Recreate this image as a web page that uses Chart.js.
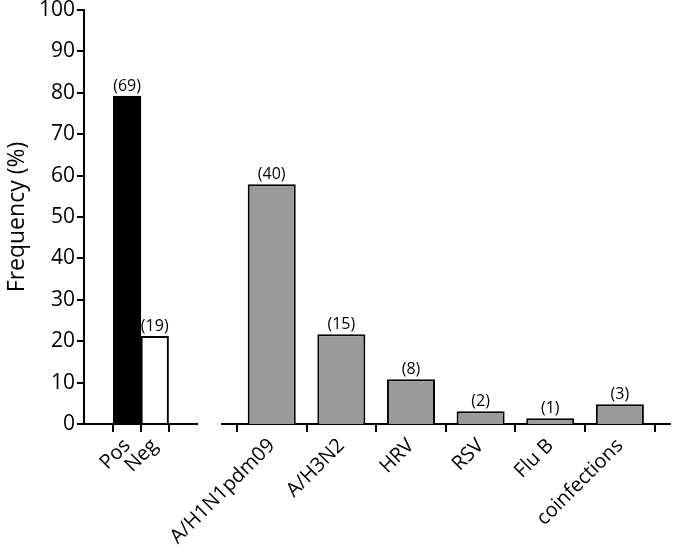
<!DOCTYPE html>
<html>
<head>
<meta charset="utf-8">
<script src="https://cdn.jsdelivr.net/npm/chart.js@4/dist/chart.umd.min.js"></script>
<style>
  html, body { margin: 0; padding: 0; background: #fff; }
  #wrap { position: relative; width: 673px; height: 554px; }
  canvas { position: absolute; top: 0; }
  #left { left: 0; }
  #right { left: 150px; }
</style>
</head>
<body>
<div id="wrap">
  <canvas id="left" width="210" height="554"></canvas>
  <canvas id="right" width="523" height="554"></canvas>
</div>
<script>
// overall result
const resultLabels = ['Pos', 'Neg'];
const resultFreq = [79.2, 21.2];
const resultCounts = [69, 19];
const resultColors = ['#000000', '#ffffff'];

// virus detected among positives
const virusLabels = ['A/H1N1pdm09', 'A/H3N2', 'HRV', 'RSV', 'Flu B', 'coinfections'];
const virusFreq = [57.9, 21.7, 10.8, 3.1, 1.4, 4.8];
const virusCounts = [40, 15, 8, 2, 1, 3];

const yTicks = [0, 10, 20, 30, 40, 50, 60, 70, 80, 90, 100];

Chart.defaults.font.family = '"Open Sans", sans-serif';
Chart.defaults.color = '#000';

// "(n)" above each bar
const countLabels = {
    id: 'countLabels',
    afterDatasetsDraw(chart, args, opts) {
        const ctx = chart.ctx;
        const meta = chart.getDatasetMeta(0);
        ctx.save();
        ctx.font = '16px "Open Sans", sans-serif';
        ctx.fillStyle = '#000';
        ctx.textAlign = 'center';
        ctx.textBaseline = 'bottom';
        meta.data.forEach((bar, i) => {
            ctx.fillText('(' + opts.counts[i] + ')', bar.x, bar.y - 2);
        });
        ctx.restore();
    }
};

function xScale(labels, min, max) {
    return {
        type: 'linear',
        min, max,
        offset: false,
        afterBuildTicks: s => { s.ticks = labels.map((l, i) => ({ value: i })); },
        afterFit: s => {
            s.height = 130;
            s.paddingLeft = 0;
            s.paddingRight = 0;
        },
        ticks: {
            autoSkip: false,
            minRotation: 45,
            maxRotation: 45,
            padding: 2,
            font: { size: 20 },
            callback: v => labels[v],
        },
        grid: { drawOnChartArea: false, tickLength: 8, color: '#000', lineWidth: 2 },
        border: { color: '#000', width: 2 },
    };
}

function yScale(visible) {
    return {
        min: 0,
        max: 100,
        afterBuildTicks: s => { s.ticks = yTicks.map(v => ({ value: v })); },
        afterFit: s => {
            s.width = visible ? 80 : 0;
            s.paddingTop = 0;
            s.paddingBottom = 0;
        },
        ticks: { font: { size: 21 }, padding: 2, color: visible ? '#000' : 'rgba(0,0,0,0)' },
        grid: { display: visible, drawOnChartArea: false, tickLength: 7, color: '#000', lineWidth: 2 },
        border: { display: visible, color: '#000', width: 2 },
        title: {
            display: visible,
            text: 'Frequency (%)',
            font: { size: 23 },
            padding: { top: 0, bottom: 4 },
        },
    };
}

new Chart(document.getElementById('left'), {
    type: 'bar',
    data: {
        datasets: [{
            data: resultLabels.map((l, i) => ({ x: i, y: resultFreq[i] })),
            backgroundColor: resultColors,
            borderColor: '#000',
            borderWidth: 2,
            barPercentage: 1,
            categoryPercentage: 1,
        }],
    },
    options: {
        responsive: false,
        animation: false,
        layout: { padding: { left: 4, right: 13, top: 10, bottom: 0 } },
        plugins: {
            legend: { display: false },
            tooltip: { enabled: false },
            countLabels: { counts: resultCounts },
        },
        scales: {
            x: xScale(resultLabels, -1.56, 2.53),
            y: yScale(true),
        },
    },
    plugins: [countLabels],
});

new Chart(document.getElementById('right'), {
    type: 'bar',
    data: {
        datasets: [{
            data: virusLabels.map((l, i) => ({ x: i, y: virusFreq[i] })),
            backgroundColor: '#9a9a9a',
            borderColor: '#000',
            borderWidth: 2,
            barPercentage: 0.69,
            categoryPercentage: 1,
        }],
    },
    options: {
        responsive: false,
        animation: false,
        layout: { padding: { left: 72, right: 3, top: 10, bottom: 0 } },
        plugins: {
            legend: { display: false },
            tooltip: { enabled: false },
            countLabels: { counts: virusCounts },
        },
        scales: {
            x: xScale(virusLabels, -0.714, 5.72),
            y: yScale(false),
        },
    },
    plugins: [countLabels],
});
</script>
</body>
</html>
